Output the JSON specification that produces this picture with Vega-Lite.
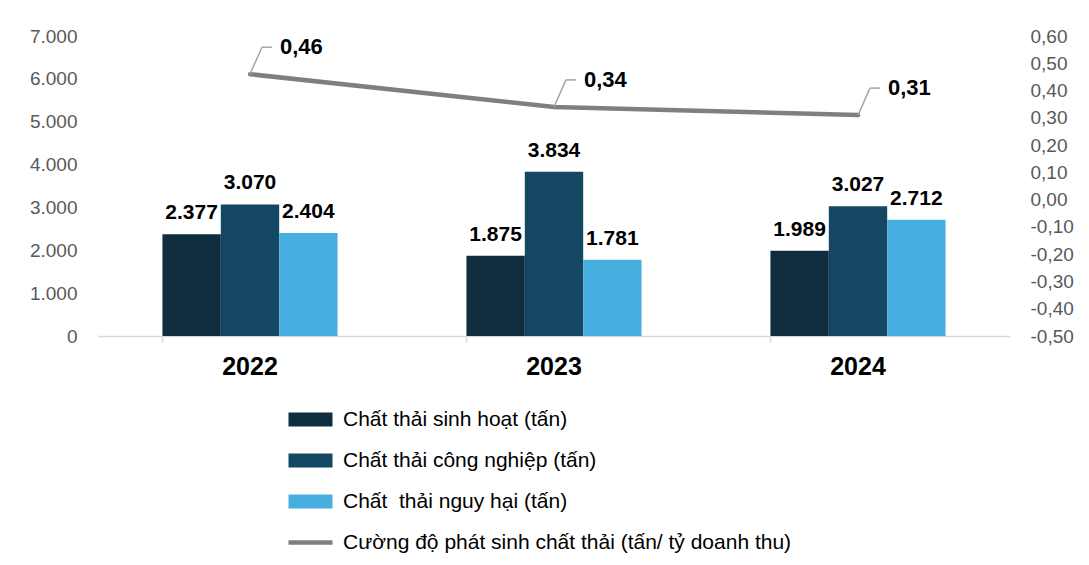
{
  "$schema": "https://vega.github.io/schema/vega-lite/v6.json",
  "autosize": {"type": "none"},
  "padding": {"left": 98, "top": 36, "right": 79, "bottom": 229},
  "width": 912,
  "height": 300,
  "background": "white",
  "config": {
    "font": "Liberation Sans",
    "view": {"stroke": null},
    "locale": {
      "number": {"decimal": ",", "thousands": ".", "grouping": [3], "currency": ["", ""], "minus": "-"}
    }
  },
  "datasets": {
    "bars": [
      {"year": "2022", "series": "Chất thải sinh hoạt (tấn)", "value": 2377},
      {"year": "2022", "series": "Chất thải công nghiệp (tấn)", "value": 3070},
      {"year": "2022", "series": "Chất\u00a0 thải nguy hại (tấn)", "value": 2404},
      {"year": "2023", "series": "Chất thải sinh hoạt (tấn)", "value": 1875},
      {"year": "2023", "series": "Chất thải công nghiệp (tấn)", "value": 3834},
      {"year": "2023", "series": "Chất\u00a0 thải nguy hại (tấn)", "value": 1781},
      {"year": "2024", "series": "Chất thải sinh hoạt (tấn)", "value": 1989},
      {"year": "2024", "series": "Chất thải công nghiệp (tấn)", "value": 3027},
      {"year": "2024", "series": "Chất\u00a0 thải nguy hại (tấn)", "value": 2712}
    ],
    "line": [
      {"year": "2022", "series": "Cường độ phát sinh chất thải (tấn/ tỷ doanh thu)", "value": 0.46},
      {"year": "2023", "series": "Cường độ phát sinh chất thải (tấn/ tỷ doanh thu)", "value": 0.34},
      {"year": "2024", "series": "Cường độ phát sinh chất thải (tấn/ tỷ doanh thu)", "value": 0.31}
    ]
  },
  "layer": [
    {
      "data": {"name": "bars"},
      "encoding": {
        "x": {
          "field": "year", "type": "nominal",
          "scale": {"paddingInner": 0.424, "paddingOuter": 0.212},
          "axis": {
            "title": null, "labelAngle": 0, "labelFontSize": 25, "labelFontWeight": "bold",
            "labelColor": "#000000", "labelPadding": 12, "domainColor": "#d9d9d9", "domainWidth": 1.5,
            "tickColor": "#d9d9d9", "tickWidth": 1.5, "tickSize": 6, "bandPosition": 0, "grid": false
          }
        },
        "xOffset": {
          "field": "series", "type": "nominal",
          "scale": {"domain": ["Chất thải sinh hoạt (tấn)", "Chất thải công nghiệp (tấn)", "Chất\u00a0 thải nguy hại (tấn)"], "padding": 0}
        },
        "y": {
          "field": "value", "type": "quantitative",
          "scale": {"domain": [0, 7000], "nice": false},
          "axis": {
            "title": null, "values": [0, 1000, 2000, 3000, 4000, 5000, 6000, 7000], "format": ",.0f",
            "labelFontSize": 19, "labelColor": "#595959", "labelPadding": 21,
            "domain": false, "ticks": false, "grid": false
          }
        }
      },
      "layer": [
        {
          "mark": {"type": "bar"},
          "encoding": {
            "color": {
              "field": "series", "type": "nominal",
              "scale": {
                "domain": ["Chất thải sinh hoạt (tấn)", "Chất thải công nghiệp (tấn)", "Chất\u00a0 thải nguy hại (tấn)", "Cường độ phát sinh chất thải (tấn/ tỷ doanh thu)"],
                "range": ["#0f2d3f", "#134762", "#47afe0", "#7f7f7f"]
              },
              "legend": {
                "orient": "none", "legendX": 202, "legendY": 373, "direction": "vertical", "title": null,
                "symbolSize": 400, "labelOffset": 22, "rowPadding": 19, "labelFontSize": 21,
                "labelColor": "#000000", "labelLimit": 700,
                "encode": {
                  "symbols": {
                    "update": {
                      "shape": {"signal": "datum.value === 'Cường độ phát sinh chất thải (tấn/ tỷ doanh thu)' ? 'M-2.2,-0.22H2.2V0.22H-2.2Z' : 'M-2.2,-0.7H2.2V0.7H-2.2Z'"},
                      "fill": {"scale": "color", "field": "value"},
                      "stroke": {"value": "transparent"},
                      "strokeWidth": {"value": 0},
                      "opacity": {"value": 1},
                      "fillOpacity": {"value": 1}
                    }
                  }
                }
              }
            }
          }
        },
        {
          "mark": {"type": "text", "fontSize": 21, "fontWeight": "bold", "color": "#000000", "baseline": "alphabetic", "dy": -15},
          "encoding": {
            "text": {"field": "value", "type": "quantitative", "format": ",.0f"}
          }
        }
      ]
    },
    {
      "data": {"name": "line"},
      "encoding": {
        "x": {"field": "year", "type": "nominal"},
        "y": {
          "field": "value", "type": "quantitative",
          "scale": {"domain": [-0.5, 0.6], "nice": false, "zero": false},
          "axis": {
            "orient": "right", "title": null,
            "values": [-0.5, -0.4, -0.3, -0.2, -0.1, 0, 0.1, 0.2, 0.3, 0.4, 0.5, 0.6], "format": ".2f",
            "labelFontSize": 19, "labelColor": "#595959", "labelPadding": 20,
            "domain": false, "ticks": false, "grid": false
          }
        }
      },
      "layer": [
        {
          "mark": {"type": "line", "strokeWidth": 4.5, "strokeCap": "round"},
          "encoding": {
            "color": {"field": "series", "type": "nominal"}
          }
        },
        {
          "mark": {"type": "rule", "color": "#a6a6a6", "strokeWidth": 1.5, "x2Offset": 12, "y2Offset": -27},
          "encoding": {
            "x": {"field": "year", "type": "nominal", "bandPosition": 0.5},
            "x2": {"field": "year", "bandPosition": 0.5},
            "y2": {"field": "value"}
          }
        },
        {
          "mark": {"type": "rule", "color": "#a6a6a6", "strokeWidth": 1.5, "xOffset": 12, "yOffset": -27, "x2Offset": 22, "y2Offset": -27},
          "encoding": {
            "x": {"field": "year", "type": "nominal", "bandPosition": 0.5},
            "x2": {"field": "year", "bandPosition": 0.5},
            "y2": {"field": "value"}
          }
        },
        {
          "mark": {"type": "text", "fontSize": 22, "fontWeight": "bold", "color": "#000000", "align": "left", "baseline": "middle", "dx": 30, "dy": -27},
          "encoding": {
            "text": {"field": "value", "type": "quantitative", "format": ".2f"}
          }
        }
      ]
    }
  ],
  "resolve": {"scale": {"y": "independent"}}
}
